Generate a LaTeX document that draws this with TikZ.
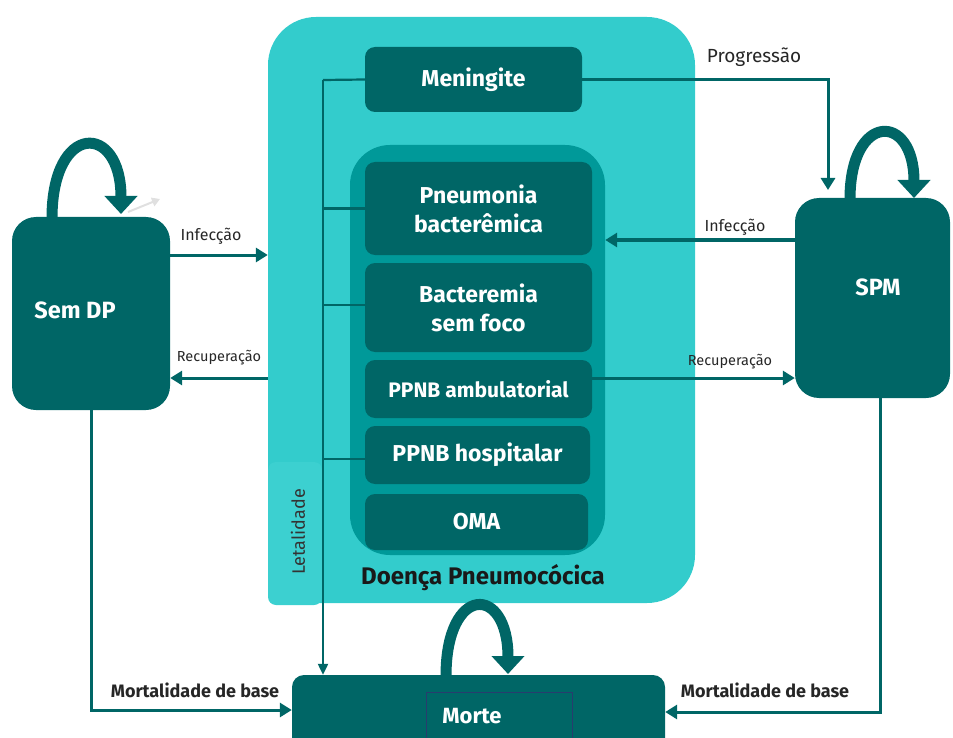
\documentclass[tikz,border=0pt]{standalone}
\usepackage{fontspec}
\setmainfont{Fira Sans}
\usetikzlibrary{arrows.meta}
\definecolor{cyanbg}{RGB}{51,204,204}
\definecolor{tabc}{RGB}{60,208,208}
\definecolor{midteal}{RGB}{0,153,153}
\definecolor{dark}{RGB}{0,102,102}
\definecolor{navy}{RGB}{40,60,110}
\begin{document}
\begin{tikzpicture}[x=1pt,y=-1pt,
  box/.style={fill=dark, rounded corners=10pt, text=white, font=\fontsize{23}{29}\selectfont\bfseries, align=center, inner sep=0pt},
  big/.style={fill=dark, rounded corners=24pt, inner sep=0pt},
  conn/.style={draw=dark, line width=3pt, -{Triangle[length=12pt,width=14pt]}},
  lethal/.style={draw=dark, line width=2.2pt},
  selfloop/.style={draw=dark, line width=11pt, -{Triangle[length=18pt,width=32pt]}},
  lbl/.style={font=\fontsize{16}{18}\selectfont, text=black!85},
  rlbl/.style={font=\fontsize{14.5}{17}\selectfont, text=black!85},
  mlbl/.style={font=\fontsize{18}{20}\selectfont\bfseries, text=black!85},
  bigtxt/.style={text=white, font=\fontsize{23.5}{27}\selectfont\bfseries},
]
\useasboundingbox (0,0) rectangle (953,738);

% disease group
\node[fill=cyanbg, rounded corners=48pt, minimum width=427pt, minimum height=586pt, inner sep=0pt] (dp) at (481.5,310) {};
\node[fill=tabc, rounded corners=8pt, minimum width=54pt, minimum height=143pt, inner sep=0pt] (tab) at (295,533.5) {};
\node[rotate=90, font=\fontsize{18}{20}\selectfont, text=black!80] (letal) at (298,532) {Letalidade};
\node[fill=midteal, rounded corners=40pt, minimum width=255pt, minimum height=410pt, inner sep=0pt] (grp) at (477.5,350) {};
\node[font=\fontsize{24}{28}\selectfont\bfseries, text=black!90] (dptxt) at (483,578) {Doença Pneumocócica};

\node[box, minimum width=217pt, minimum height=65pt] (men) at (473.5,79.5) {Meningite};
\node[box, minimum width=227pt, minimum height=93pt] (pb) at (478.5,208.5) {Pneumonia\\bacterêmica};
\node[box, minimum width=227pt, minimum height=89pt] (bsf) at (478.5,307.5) {Bacteremia\\sem foco};
\node[box, minimum width=227pt, minimum height=58pt, font=\fontsize{21}{24}\selectfont\bfseries] (ppa) at (478.5,389) {PPNB ambulatorial};
\node[box, minimum width=225pt, minimum height=58pt] (pph) at (477.5,455) {PPNB hospitalar};
\node[box, minimum width=223pt, minimum height=56pt] (oma) at (476.5,522) {OMA};

% states
\node[big, minimum width=158pt, minimum height=193pt] (semdp) at (91,313.5) {};
\node[bigtxt] (semdptxt) at (75,310) {Sem DP};
\node[big, minimum width=155pt, minimum height=200pt] (spm) at (872.5,298) {};
\node[bigtxt] (spmtxt) at (878,287) {SPM};
\node[fill=dark, rounded corners=12pt, minimum width=373pt, minimum height=80pt, inner sep=0pt] (morte) at (478.5,715) {};
\node[draw=navy, line width=0.8pt, minimum width=146pt, minimum height=60pt, inner sep=0pt] (mrect) at (499,722) {};
\node[text=white, font=\fontsize{22}{25}\selectfont\bfseries] (mtxt) at (472,716) {Morte};

% self loops
\draw[selfloop] (52,218) .. controls (52,122) and (121,122) .. (121,214);
\draw[draw=black!12, line width=2pt, -{Triangle[length=8pt,width=9pt]}] (128,212) -- (160,199);
\draw[selfloop] (850,199) .. controls (850,112) and (914,112) .. (914,198);
\draw[selfloop] (446,676) .. controls (446,584) and (508,584) .. (508,674);

% lethality lines
\coordinate (lt) at (323,80);
\draw[lethal] (men.west) -- (lt);
\draw[lethal, -{Triangle[length=11pt,width=10pt]}] (lt) -- (lt |- morte.north);
\draw[lethal] (pb.west) -- (pb.west -| lt);
\draw[lethal] (bsf.west |- 0,305) -- (lt |- 0,305);
\draw[lethal] (pph.west |- 0,459) -- (lt |- 0,459);

% transitions
\coordinate (pg) at (828,190);
\draw[conn] (men.east) -| (pg);
\node[lbl, font=\fontsize{19}{21}\selectfont] (lprog) at (754,57) {Progressão};

\draw[conn] (semdp.east |- 0,255) -- (dp.west |- 0,255);
\node[lbl] (linf1) at (211,236) {Infecção};
\draw[conn] (dp.west |- 0,378) -- (semdp.east |- 0,378);
\node[rlbl] (lrec1) at (219,358) {Recuperação};

\draw[conn] (spm.west |- 0,240) -- (grp.east |- 0,240);
\node[lbl] (linf2) at (735,227) {Infecção};
\draw[conn] (ppa.east |- 0,378) -- (spm.west |- 0,378);
\node[rlbl] (lrec2) at (730,362) {Recuperação};

\draw[conn] (semdp.south) |- (morte.west |- 0,710);
\node[mlbl] (lmort1) at (195,690) {Mortalidade de base};
\draw[conn] (spm.south -| 880,0) |- (morte.east |- 0,712);
\node[mlbl] (lmort2) at (765,690) {Mortalidade de base};
\end{tikzpicture}
\end{document}
